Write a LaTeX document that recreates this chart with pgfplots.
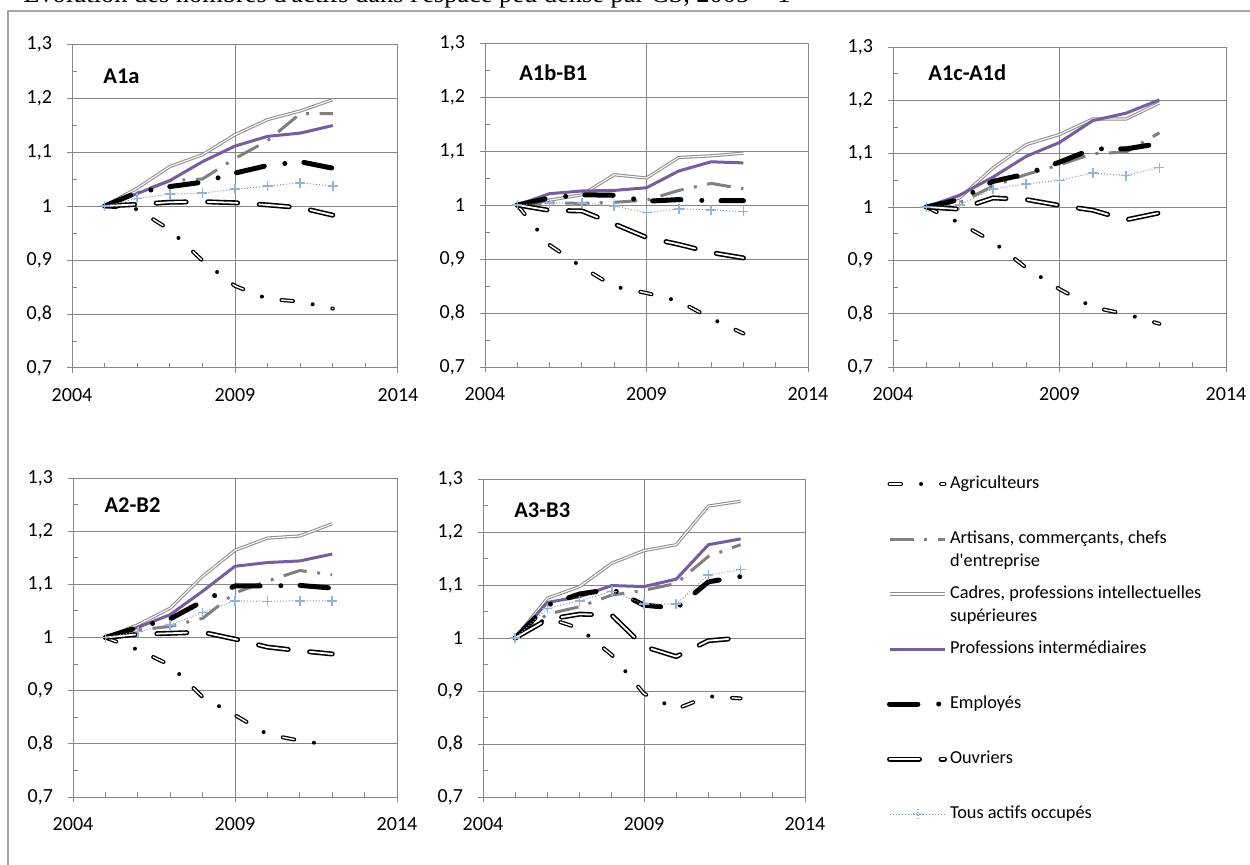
\documentclass[border=0pt]{standalone}
\usepackage{fontspec}
\setmainfont{Carlito}[Ligatures=TeXOff]
\newfontfamily\seriffont{Liberation Serif}[Ligatures=TeXOff]
\usepackage{pgfplots}
\usepackage{pgfplotstable}
\pgfplotsset{compat=1.18}

\definecolor{gridc}{RGB}{134,134,134}
\definecolor{artc}{RGB}{128,128,128}
\definecolor{cadc}{RGB}{140,140,140}
\definecolor{profc}{RGB}{117,94,160}
\definecolor{tousm}{RGB}{149,179,215}
\definecolor{tousl}{RGB}{125,145,185}
\definecolor{framec}{RGB}{165,165,165}

\pgfplotstableread{
year agri art cad prof emp ouv tous
2005 1.000 1.000 1.000 1.000 1.000 1.000 1.000
2006 0.994 1.024 1.033 1.023 1.025 1.003 1.014
2007 0.956 1.047 1.073 1.047 1.036 1.007 1.022
2008 0.899 1.050 1.095 1.082 1.044 1.008 1.024
2009 0.852 1.088 1.132 1.111 1.061 1.006 1.031
2010 0.828 1.121 1.160 1.129 1.075 1.002 1.037
2011 0.823 1.171 1.176 1.135 1.082 0.997 1.043
2012 0.810 1.171 1.197 1.149 1.070 0.983 1.037
}\tA

\pgfplotstableread{
year agri art cad prof emp ouv tous
2005 1.000 1.000 1.000 1.000 1.000 1.000 1.000
2006 0.926 1.004 1.009 1.021 1.013 0.990 1.004
2007 0.885 1.003 1.019 1.026 1.019 0.989 1.004
2008 0.849 1.005 1.056 1.027 1.018 0.965 0.998
2009 0.837 1.009 1.050 1.032 1.007 0.940 0.986
2010 0.822 1.027 1.088 1.063 1.010 0.927 0.993
2011 0.790 1.040 1.091 1.080 1.008 0.912 0.991
2012 0.762 1.030 1.096 1.078 1.008 0.902 0.988
}\tB

\pgfplotstableread{
year agri art cad prof emp ouv tous
2005 1.000 1.000 1.000 1.000 1.000 1.000 1.000
2006 0.970 1.008 1.017 1.022 1.014 0.996 1.004
2007 0.935 1.039 1.073 1.056 1.048 1.017 1.034
2008 0.886 1.061 1.117 1.095 1.062 1.014 1.043
2009 0.846 1.079 1.136 1.121 1.084 1.003 1.050
2010 0.812 1.100 1.165 1.162 1.109 0.994 1.064
2011 0.799 1.103 1.165 1.176 1.109 0.976 1.059
2012 0.781 1.139 1.195 1.201 1.119 0.989 1.074
}\tC

\pgfplotstableread{
year agri art cad prof emp ouv tous
2005 1.000 1.000 1.000 1.000 1.000 1.000 1.000
2006 0.977 1.014 1.024 1.019 1.019 1.006 1.011
2007 0.948 1.021 1.055 1.043 1.035 1.008 1.024
2008 0.888 1.036 1.115 1.087 1.068 1.010 1.047
2009 0.854 1.084 1.164 1.134 1.097 0.997 1.069
2010 0.818 1.106 1.187 1.141 1.097 0.982 1.068
2011 0.806 1.126 1.191 1.144 1.098 0.975 1.069
2012 0.797 1.118 1.214 1.157 1.093 0.969 1.069
}\tD

\pgfplotstableread{
year agri art cad prof emp ouv tous
2005 1.000 1.000 1.000 1.000 1.000 1.000 1.000
2006 1.038 1.045 1.075 1.067 1.062 1.035 1.056
2007 1.018 1.059 1.097 1.078 1.083 1.045 1.070
2008 0.968 1.081 1.141 1.099 1.092 1.043 1.088
2009 0.895 1.090 1.165 1.097 1.062 0.984 1.064
2010 0.866 1.103 1.176 1.111 1.056 0.965 1.064
2011 0.890 1.154 1.249 1.176 1.106 0.995 1.119
2012 0.886 1.176 1.258 1.187 1.116 1.000 1.129
}\tE

\pgfplotsset{
  panel/.style={
    scale only axis,
    xmin=2004, xmax=2014, ymin=0.7, ymax=1.3,
    xtick={2004,2009,2014}, xticklabels={2004,2009,2014},
    minor xtick={2005,2006,2007,2008,2010,2011,2012,2013},
    ytick={0.7,0.8,0.9,1,1.1,1.2,1.3},
    yticklabels={{0,7},{0,8},{0,9},1,{1,1},{1,2},{1,3}},
    minor ytick={0.75,0.85,0.95,1.05,1.15,1.25},
    grid=major, major grid style={gridc, line width=0.5pt},
    axis line style={gridc, line width=0.5pt},
    tick style={gridc, line width=0.5pt},
    tick pos=left,
    tick align=outside, major tick length=2.5pt, minor tick length=-2.5pt,
    xticklabel style={font=\fontsize{10}{12}\selectfont, yshift=-4.2pt},
    yticklabel style={font=\fontsize{10}{12}\selectfont, xshift=-4pt},
    legend image code/.code={\draw[##1] (0pt,0pt) -- (27.5pt,0pt);},
  },
  agriA/.style={black, line width=2pt, line cap=round, line join=round,
    dash pattern=on 5.8pt off 10pt on 0pt off 10pt,
    legend image code/.code={
      \draw[black, line width=2pt, line cap=round, dash pattern=on 5.8pt off 10pt on 0pt off 10pt] (0pt,0pt) -- (27.5pt,0pt);
      \draw[white, line width=0.7pt, line cap=round, dash pattern=on 5.8pt off 20pt] (0pt,0pt) -- (27.5pt,0pt);}},
  agriB/.style={white, line width=0.7pt, line cap=round, line join=round,
    dash pattern=on 5.8pt off 20pt},
  artS/.style={artc, line width=1.5pt, line cap=butt,
    dash pattern=on 12pt off 5.25pt on 1.5pt off 5.25pt},
  cadA/.style={cadc, line width=1.6pt, line join=round,
    legend image code/.code={
      \draw[cadc, line width=1.6pt] (0pt,0pt) -- (27.5pt,0pt);
      \draw[white, line width=0.55pt] (0pt,0pt) -- (27.5pt,0pt);}},
  cadB/.style={white, line width=0.55pt, line join=round},
  profS/.style={profc, line width=1.5pt, line join=round},
  empS/.style={black, line width=2.5pt, line cap=round, line join=round,
    dash pattern=on 14.2pt off 10.4pt on 0pt off 9.6pt},
  ouvA/.style={black, line width=2.5pt, line cap=round, line join=round,
    dash pattern=on 15pt off 10.8pt,
    legend image code/.code={
      \draw[black, line width=2.5pt, line cap=round, dash pattern=on 15pt off 10.8pt] (0pt,0pt) -- (27.5pt,0pt);
      \draw[white, line width=0.9pt, line cap=round, dash pattern=on 15pt off 10.8pt] (0pt,0pt) -- (27.5pt,0pt);}},
  ouvB/.style={white, line width=0.9pt, line cap=round, line join=round,
    dash pattern=on 15pt off 10.8pt},
  tousS/.style={tousl, line width=0.5pt, dash pattern=on 0.5pt off 1pt,
    mark=+, mark size=2.5pt, mark options={solid, tousm, line width=0.8pt},
    legend image code/.code={
      \draw[tousl, line width=0.5pt, dash pattern=on 0.5pt off 1pt] (0pt,0pt) -- (27.5pt,0pt);
      \draw[tousm, line width=0.8pt] (11.75pt,0pt) -- (16.75pt,0pt) (14.25pt,-2.5pt) -- (14.25pt,2.5pt);}},
}

\newcommand\series[1]{%
  \addplot[agriA] table[x=year,y=agri]{#1};
  \addplot[agriB, forget plot] table[x=year,y=agri]{#1};
  \addplot[artS] table[x=year,y=art]{#1};
  \addplot[cadA] table[x=year,y=cad]{#1};
  \addplot[cadB, forget plot] table[x=year,y=cad]{#1};
  \addplot[profS] table[x=year,y=prof]{#1};
  \addplot[empS] table[x=year,y=emp]{#1};
  \addplot[ouvA] table[x=year,y=ouv]{#1};
  \addplot[ouvB, forget plot] table[x=year,y=ouv]{#1};
  \addplot[tousS] table[x=year,y=tous]{#1};
}

\newcommand\ttl{\bfseries\fontsize{11.25}{13}\selectfont}

\begin{document}
\begin{tikzpicture}
\useasboundingbox (0pt,0pt) rectangle (625pt,432pt);
\draw[framec, line width=0.9pt] (4.15pt,-2pt) -- (4.15pt,426.65pt) -- (630pt,426.65pt);
\node[overlay, anchor=base west, inner sep=0pt, font=\seriffont\fontsize{13.2}{15}\selectfont] at (11.5pt,430.6pt)
  {Évolution des nombres d'actifs dans l'espace peu dense par CS, 2005 = 1};

\begin{axis}[panel, at={(36pt,248pt)}, anchor=south west, width=163pt, height=162pt]
\series{\tA}
\node[anchor=west, inner sep=0pt, font=\ttl] at (rel axis cs:0.095,0.899) {A1a};
\end{axis}

\begin{axis}[panel, at={(242.5pt,248.5pt)}, anchor=south west, width=161.5pt, height=162pt]
\series{\tB}
\node[anchor=west, inner sep=0pt, font=\ttl] at (rel axis cs:0.105,0.908) {A1b-B1};
\end{axis}

\begin{axis}[panel, at={(446.5pt,248.5pt)}, anchor=south west, width=166.5pt, height=160pt]
\series{\tC}
\node[anchor=west, inner sep=0pt, font=\ttl] at (rel axis cs:0.105,0.919) {A1c-A1d};
\end{axis}

\begin{axis}[panel, at={(36.5pt,33.5pt)}, anchor=south west, width=162pt, height=159.5pt]
\series{\tD}
\node[anchor=west, inner sep=0pt, font=\ttl] at (rel axis cs:0.096,0.915) {A2-B2};
\end{axis}

\begin{axis}[panel, at={(241.5pt,33.5pt)}, anchor=south west, width=161pt, height=159pt,
  legend cell align=left,
  legend style={draw=none, fill=none, at={(1.2547,1.011)}, anchor=north west,
    inner sep=0pt, outer sep=0pt, row sep=19pt,
    font=\fontsize{9.15}{11.5}\selectfont,
    nodes={inner ysep=0pt, inner xsep=1.5pt, text height=6.5pt, text depth=2pt}},
  legend entries={Agriculteurs,
    {\smash{\parbox[t]{140pt}{\raggedright Artisans, commerçants, chefs\\d'entreprise}}},
    {\smash{\parbox[t]{140pt}{\raggedright Cadres, professions intellectuelles\\supérieures}}},
    Professions intermédiaires, Employés, Ouvriers, Tous actifs occupés}]
\series{\tE}
\node[anchor=west, inner sep=0pt, font=\ttl] at (rel axis cs:0.096,0.903) {A3-B3};
\end{axis}
\end{tikzpicture}
\end{document}
